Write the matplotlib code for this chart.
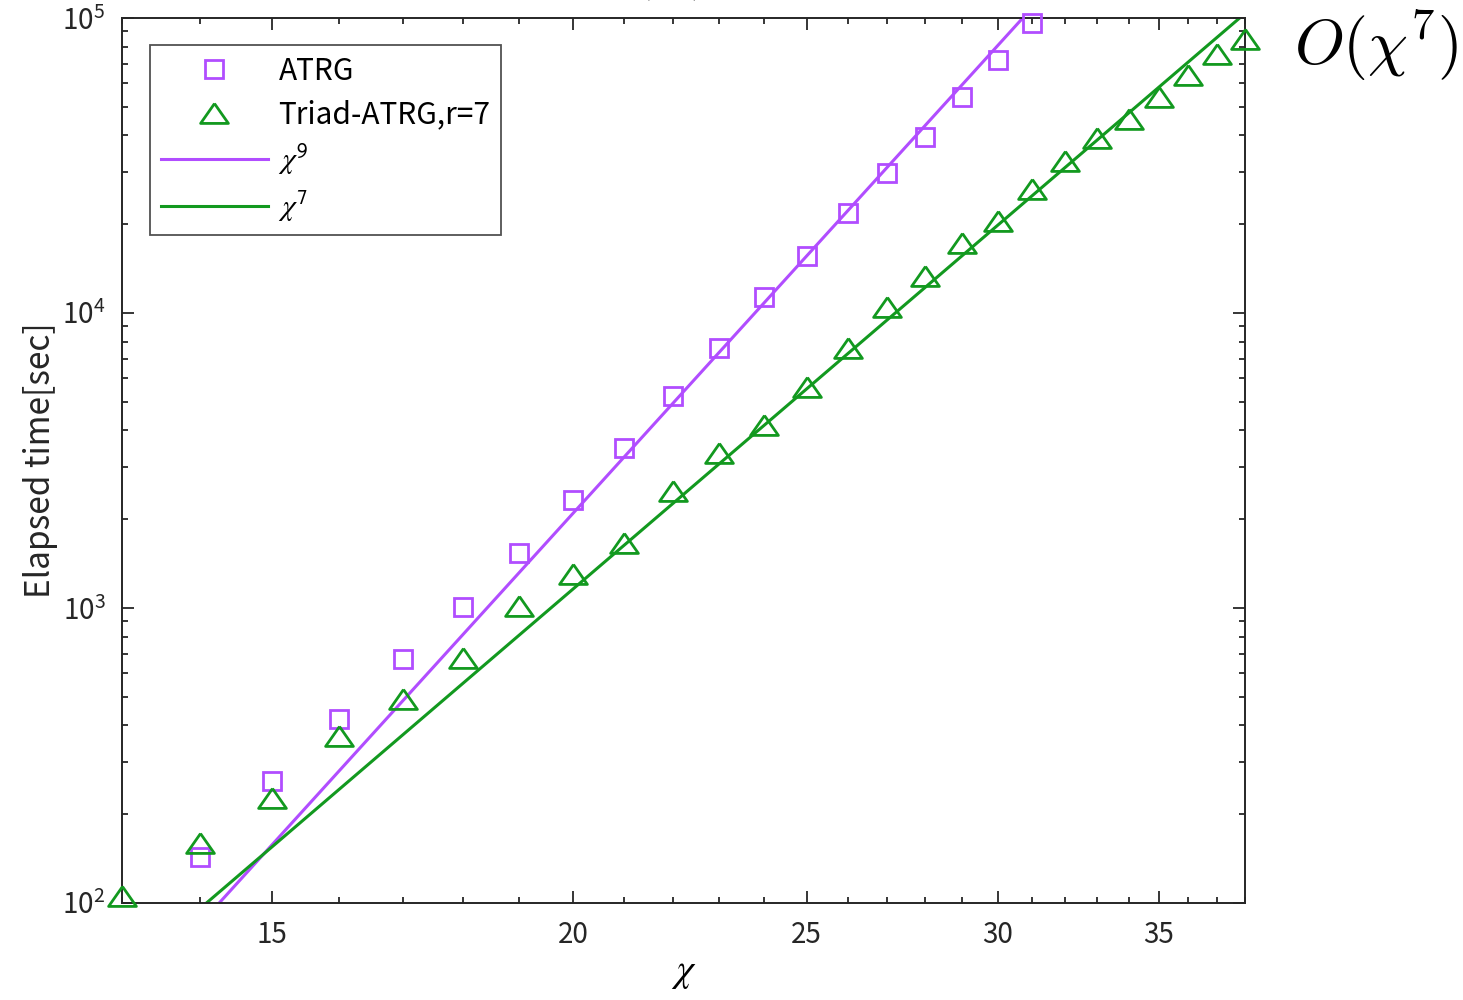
import numpy as np
import matplotlib
matplotlib.use("Agg")
import matplotlib.pyplot as plt
from matplotlib.font_manager import FontProperties
from matplotlib.ticker import FixedLocator, FixedFormatter, NullFormatter, LogLocator

plt.rcParams['font.family'] = ['Noto Sans CJK JP', 'DejaVu Sans']

# bond dimension
chi_atrg = [14, 15, 16, 17, 18, 19, 20, 21, 22, 23, 24, 25, 26, 27, 28, 29, 30, 31]
time_atrg = [143, 259, 421, 671, 1007, 1536, 2323, 3487, 5232, 7610, 11330,
             15600, 21830, 29840, 39500, 53990, 72060, 96200]

chi_triad = list(range(13, 39))
time_triad = [106, 160, 227, 368, 492, 677, 1016, 1303, 1661, 2492, 3353, 4172,
              5612, 7610, 10480, 13350, 17270, 20500, 26310, 32750, 39200, 45480,
              53990, 64100, 75500, 84850]

# fitted prefactors for chi^9 and chi^7
c9 = 4.09e-9
c7 = 9.06e-7

purple = '#b14dff'
green = '#12991f'
axcol = '#262626'

fig = plt.figure(figsize=(14.63, 10), dpi=100)
ax = fig.add_axes([0.0834, 0.097, 0.7676, 0.885])

tri = [(0, 1), (-1.4, -1), (1.4, -1), (0, 1)]

ax.plot(chi_atrg, time_atrg, linestyle='none', marker='s', ms=12.5,
        mfc='none', mec=purple, mew=2.0, label='ATRG', clip_on=False, zorder=4)
ax.plot(chi_triad, time_triad, linestyle='none', marker=tri, ms=20,
        mfc='none', mec=green, mew=2.0, label='Triad-ATRG,r=7', clip_on=False, zorder=4)

xf = np.linspace(13, 38, 200)
ax.plot(xf, c9 * xf**9, color=purple, lw=2.2, label=r'$\chi^{\mathsf{9}}$')
ax.plot(xf, c7 * xf**7, color=green, lw=2.2, label=r'$\chi^{\mathsf{7}}$')

ax.set_xscale('log')
ax.set_yscale('log')
ax.set_xlim(13, 38)
ax.set_ylim(1e2, 1e5)

ax.xaxis.set_major_locator(FixedLocator([15, 20, 25, 30, 35]))
ax.xaxis.set_minor_locator(FixedLocator([v for v in range(13, 39) if v % 5 != 0]))
ax.xaxis.set_major_formatter(FixedFormatter(['15', '20', '25', '30', '35']))
ax.xaxis.set_minor_formatter(NullFormatter())
ax.yaxis.set_major_locator(FixedLocator([1e2, 1e3, 1e4, 1e5]))
ax.yaxis.set_minor_locator(LogLocator(base=10, subs=np.arange(2, 10)))
ax.yaxis.set_minor_formatter(NullFormatter())

ax.tick_params(which='both', direction='in', top=True, right=True,
               color=axcol, width=1.3, labelsize=20, labelcolor=axcol)
ax.tick_params(which='major', length=8.5, pad=12)
ax.tick_params(which='minor', length=4.3)
for s in ax.spines.values():
    s.set_color(axcol)
    s.set_linewidth(1.4)

ax.set_xlabel(r'$\chi$', fontsize=28, labelpad=1, math_fontfamily='stix')
ax.set_ylabel('Elapsed time[sec]', fontsize=24, color=axcol, labelpad=3)

legprop = FontProperties(family=['Noto Sans CJK JP'], size=21.5, math_fontfamily='stix')
leg = ax.legend(loc='upper left', bbox_to_anchor=(0.025, 0.969), borderaxespad=0,
                prop=legprop, handlelength=3.6, frameon=True, fancybox=False,
                edgecolor=axcol, labelspacing=0.42, borderpad=0.35, handletextpad=0.35)
leg.get_frame().set_linewidth(1.3)

fig.text(0.9966, 0.955, r'$O(\chi^7)$', fontsize=46, ha='right', va='center',
         math_fontfamily='cm')
fig.text(0.459, 1.013, '(r=7)', fontsize=20, ha='center', va='center', color=axcol)

fig.savefig('out.png', dpi=100)
